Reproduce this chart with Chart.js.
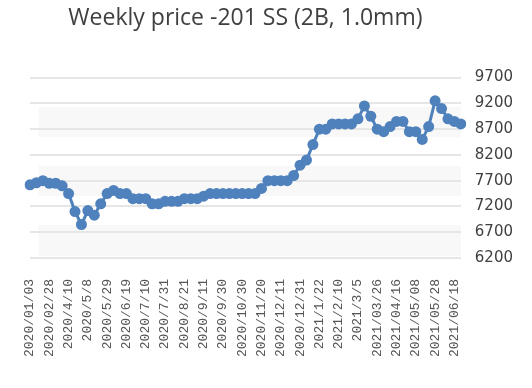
<!DOCTYPE html>
<html>
<head>
<meta charset="utf-8">
<script src="https://cdn.jsdelivr.net/npm/chart.js@4"></script>
<style>
  html, body { margin: 0; padding: 0; background: #fff; }
  #wrap { width: 532px; height: 388px; }
</style>
</head>
<body>
<div id="wrap"><canvas id="chartPrice"></canvas></div>
<script>
// tick labels shown on the x axis (every third week)
var tickLabels = ["2020/01/03", "2020/02/28", "2020/4/10", "2020/5/8", "2020/5/29", "2020/6/19",
    "2020/7/10", "2020/7/31", "2020/8/21", "2020/9/11", "2020/9/30", "2020/10/30", "2020/11/20",
    "2020/12/11", "2020/12/31", "2021/1/22", "2021/2/10", "2021/3/5", "2021/03/26", "2021/04/16",
    "2021/05/08", "2021/05/28", "2021/06/18"];

// weekly price readings
var prices = [7620, 7660, 7700, 7650, 7650, 7600, 7450, 7100, 6850, 7120,
    7030, 7250, 7450, 7510, 7450, 7450, 7350, 7350, 7350, 7250,
    7250, 7300, 7300, 7300, 7350, 7350, 7350, 7400, 7450, 7450,
    7450, 7450, 7450, 7450, 7450, 7450, 7550, 7700, 7700, 7700,
    7700, 7800, 8000, 8100, 8400, 8700, 8700, 8800, 8800, 8800,
    8800, 8900, 9150, 8950, 8700, 8650, 8750, 8850, 8850, 8650,
    8650, 8500, 8750, 9250, 9100, 8900, 8850, 8800];

var yTicks = [6200, 6700, 7200, 7700, 8200, 8700, 9200, 9700];

// one category per reading; only every third one carries a label
var categories = prices.map(function (v, i) {
    return i % 3 === 0 ? (tickLabels[i / 3] || '') : '';
});

// faint horizontal bands behind the plot
var bandPlugin = {
    id: 'bands',
    beforeDraw: function (chart) {
        var a = chart.chartArea, ctx = chart.ctx;
        var bands = [[0.163, 0.329], [0.490, 0.657], [0.818, 0.991]];
        ctx.save();
        ctx.fillStyle = '#f8f8f8';
        var x0 = a.left + a.width * 0.02;
        bands.forEach(function (b) {
            ctx.fillRect(x0, a.top + a.height * b[0], a.right - x0, a.height * (b[1] - b[0]));
        });
        ctx.restore();
    }
};

var ctx = document.getElementById('chartPrice').getContext('2d');
var chart = new Chart(ctx, {
    type: 'line',
    data: {
        labels: categories,
        datasets: [{
            label: 'price',
            data: prices,
            borderColor: '#4f81bd',
            backgroundColor: '#4f81bd',
            borderWidth: 3,
            pointRadius: 5.5,
            pointBorderWidth: 0,
            pointBackgroundColor: '#4f81bd',
            tension: 0
        }]
    },
    plugins: [bandPlugin],
    options: {
        responsive: true,
        maintainAspectRatio: false,
        animation: false,
        layout: { padding: { left: 30, right: 5, top: 0, bottom: 18 } },
        plugins: {
            legend: { display: false },
            tooltip: { enabled: false },
            title: {
                display: true,
                fullSize: false,
                text: 'Weekly price -201 SS (2B, 1.0mm)',
                color: '#404040',
                font: { family: 'Open Sans', size: 23, weight: 'normal' },
                padding: { top: 5, bottom: 45 }
            }
        },
        scales: {
            x: {
                offset: false,
                grid: { display: false },
                border: { display: false },
                ticks: {
                    autoSkip: false,
                    maxRotation: 90,
                    minRotation: 90,
                    padding: 13,
                    color: '#555',
                    font: { family: 'Liberation Mono', size: 13 }
                }
            },
            y: {
                position: 'right',
                min: 6200,
                max: 9700,
                afterBuildTicks: function (axis) {
                    axis.ticks = yTicks.map(function (v) { return { value: v }; });
                },
                grid: { color: '#e6e6e6', lineWidth: 2, drawTicks: false },
                border: { display: false },
                ticks: {
                    padding: 14,
                    color: '#404040',
                    font: { family: 'DejaVu Sans', size: 15 },
                    callback: function (v) { return String(v); }
                }
            }
        }
    }
});
</script>
</body>
</html>
